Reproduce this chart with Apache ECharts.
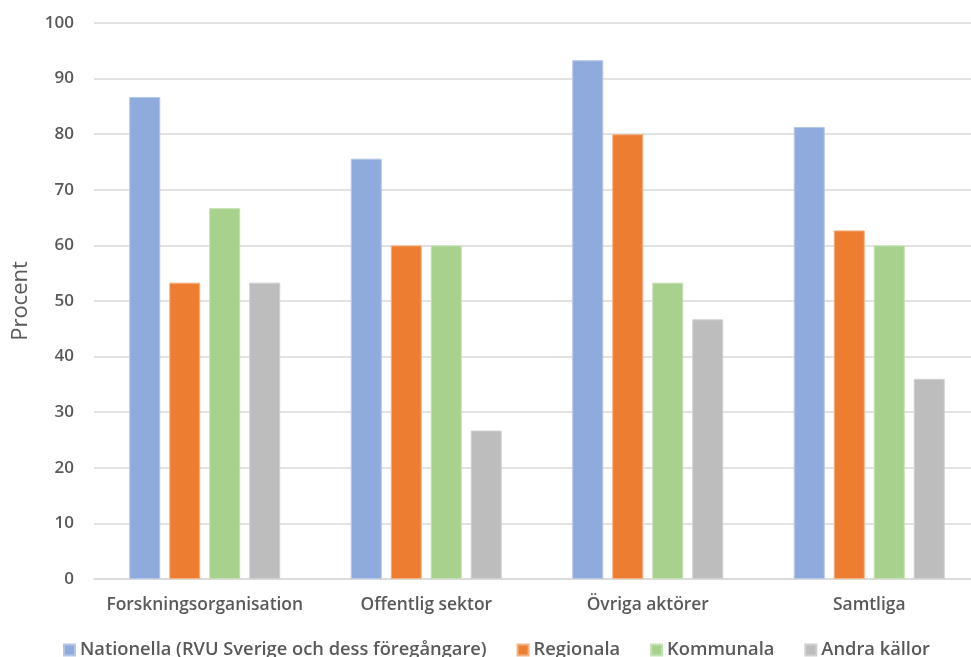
<!DOCTYPE html>
<html>
<head>
<meta charset="utf-8">
<script src="https://cdn.jsdelivr.net/npm/echarts@6/dist/echarts.min.js"></script>
<style>
  html, body { margin: 0; padding: 0; background: #fff; }
  #chart { width: 971px; height: 657px; }
</style>
</head>
<body>
<div id="chart"></div>
<script>
// Andel (procent) per aktörsgrupp och datakälla
const categories = ['Forskningsorganisation', 'Offentlig sektor', 'Övriga aktörer', 'Samtliga'];
const seriesNames = ['Nationella (RVU Sverige och dess föregångare)', 'Regionala', 'Kommunala', 'Andra källor'];
const nationella = [86.7, 75.6, 93.3, 81.3];
const regionala = [53.3, 60.0, 80.0, 62.7];
const kommunala = [66.7, 60.0, 53.3, 60.0];
const andraKallor = [53.3, 26.7, 46.7, 36.0];
const yTicks = [0, 10, 20, 30, 40, 50, 60, 70, 80, 90, 100];

const colors = ['#8faadc', '#ed7d31', '#a9d18e', '#bdbdbd'];
const borders = ['#b4c7e7', '#f4b183', '#c5e0b4', '#d0d0d0'];
const values = [nationella, regionala, kommunala, andraKallor];
const font = '"Open Sans", "Noto Sans", sans-serif';

const chart = echarts.init(document.getElementById('chart'), null, { renderer: 'canvas' });
chart.setOption({
  animation: false,
  backgroundColor: '#ffffff',
  grid: { left: 94, top: 23, width: 886, bottom: 78, containLabel: false, outerBoundsMode: 'none' },
  legend: {
    left: 63,
    top: 641,
    padding: 0,
    itemWidth: 11,
    itemHeight: 11,
    itemGap: 30,
    icon: 'rect',
    textStyle: { color: '#595959', fontFamily: font, fontSize: 18.3, fontWeight: 600 },
    data: seriesNames
  },
  xAxis: {
    type: 'category',
    data: categories,
    axisLine: { show: true, lineStyle: { color: '#d9d9d9', width: 1.5 } },
    axisTick: { show: false },
    axisLabel: { interval: 0, color: '#595959', fontFamily: font, fontSize: 17.4, fontWeight: 600, margin: 18 }
  },
  yAxis: {
    type: 'value',
    min: yTicks[0],
    max: yTicks[yTicks.length - 1],
    interval: yTicks[1] - yTicks[0],
    name: 'Procent',
    nameLocation: 'middle',
    nameGap: 62,
    nameRotate: 90,
    nameTextStyle: { color: '#595959', fontFamily: font, fontSize: 22 },
    axisLine: { show: false },
    axisTick: { show: false },
    splitLine: { lineStyle: { color: '#d9d9d9', width: 1.5 } },
    axisLabel: { color: '#595959', fontFamily: font, fontSize: 17, fontWeight: 600, margin: 20 }
  },
  series: seriesNames.map((name, i) => ({
    name: name,
    type: 'bar',
    data: values[i],
    barWidth: 31,
    barGap: '29%',
    itemStyle: { color: colors[i], borderColor: borders[i], borderWidth: 1 }
  }))
});
</script>
</body>
</html>
